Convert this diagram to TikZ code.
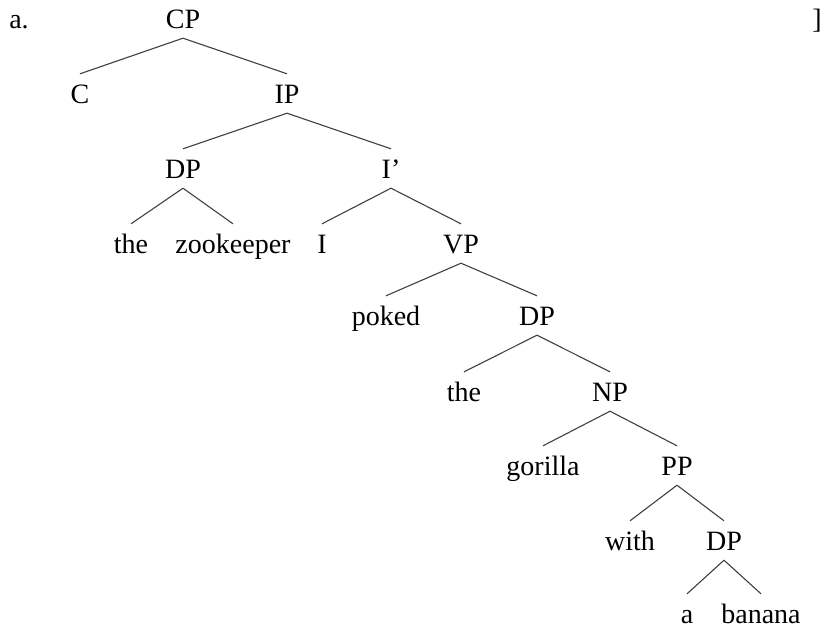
\documentclass[tikz,border=0pt]{standalone}
\usepackage{fontspec}
\setmainfont{Liberation Serif}
\begin{document}
\begin{tikzpicture}[x=1pt,y=-1pt,
  lbl/.style={anchor=base, inner xsep=2pt, inner ysep=5pt,
              text height=24pt, text depth=5pt,
              font=\fontsize{28}{31}\selectfont, text=black},
  branch/.style={draw=black!75, line width=1.1pt}]
\useasboundingbox (0,0) rectangle (824,630);

% example label and closing bracket
\node[lbl] (ex) at (19,28) {a.};
\node[lbl] (br) at (817,28) {]};

% tree nodes (x = centre, y = baseline)
\node[lbl] (cp)   at (183,28)  {CP};
\node[lbl] (c)    at (80,103)  {C};
\node[lbl] (ip)   at (287,103) {IP};
\node[lbl] (dp1)  at (183,178) {DP};
\node[lbl] (ibar) at (391,178) {I’};
\node[lbl] (the1) at (131,253) {the};
\node[lbl] (zoo)  at (233,253) {zookeeper};
\node[lbl] (i)    at (322,253) {I};
\node[lbl] (vp)   at (461,253) {VP};
\node[lbl] (pok)  at (386,325) {poked};
\node[lbl] (dp2)  at (537,325) {DP};
\node[lbl] (the2) at (464,401) {the};
\node[lbl] (np)   at (610,401) {NP};
\node[lbl] (gor)  at (543,475) {gorilla};
\node[lbl] (pp)   at (677,475) {PP};
\node[lbl] (with) at (630,550) {with};
\node[lbl] (dp3)  at (724,550) {DP};
\node[lbl] (a)    at (687,623) {a};
\node[lbl] (ban)  at (761,623) {banana};

% branches
\foreach \p/\k in {cp/c, cp/ip, ip/dp1, ip/ibar, dp1/the1, dp1/zoo,
                   ibar/i, ibar/vp, vp/pok, vp/dp2, dp2/the2, dp2/np,
                   np/gor, np/pp, pp/with, pp/dp3, dp3/a, dp3/ban}
  \draw[branch] (\p.south) -- (\k.north);
\end{tikzpicture}
\end{document}
